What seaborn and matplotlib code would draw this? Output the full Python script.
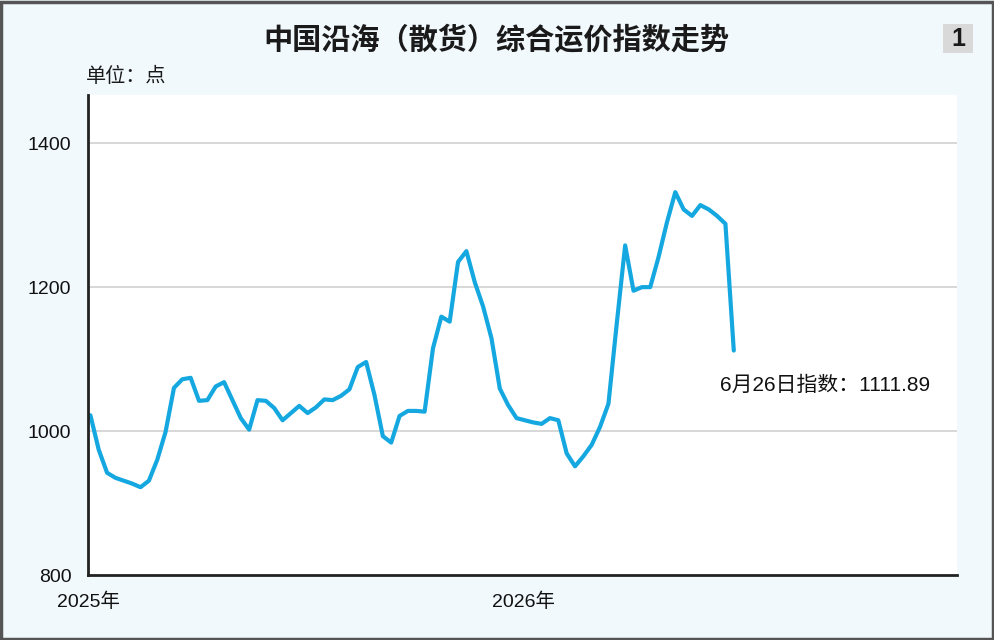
import pandas as pd
import matplotlib
matplotlib.use("Agg")
import matplotlib.pyplot as plt
from matplotlib.patches import Rectangle
import seaborn as sns

title = "中国沿海（散货）综合运价指数走势"
unit_label = "单位：点"
start_date = "2025-01-03"
index_values = [
    1022, 974, 942, 935, 931, 927, 922, 931, 960, 999,
    1060, 1072, 1074, 1042, 1043, 1062, 1068, 1043, 1018, 1002,
    1043, 1042, 1032, 1015, 1025, 1035, 1025, 1033, 1044, 1043,
    1049, 1058, 1089, 1096, 1050, 993, 984, 1021, 1028, 1028,
    1027, 1115, 1159, 1152, 1235, 1250, 1207, 1173, 1129, 1059,
    1036, 1018, 1015, 1012, 1010, 1018, 1015, 969, 951, 965,
    981, 1006, 1038, 1150, 1258, 1195, 1200, 1200, 1242, 1290,
    1332, 1308, 1299, 1314, 1308, 1299, 1288, 1111.89,
]
year_ticks = ["2025-01-01", "2026-01-01"]
year_labels = ["2025年", "2026年"]
y_ticks = [800, 1000, 1200, 1400]
note = "6月26日指数：1111.89"

df = pd.DataFrame({
    "date": pd.date_range(start_date, periods=len(index_values), freq="7D"),
    "value": index_values,
})

sns.set_style("white")
plt.rcParams["font.family"] = ["Liberation Sans", "Noto Sans CJK SC"]

bg = "#f2f9fd"
line_color = "#15a8e0"
ink = "#111111"

fig = plt.figure(figsize=(9.94, 6.4), dpi=100, facecolor=bg)
ax = fig.add_axes([88 / 994, 1 - 575 / 640, (957 - 88) / 994, (575 - 95) / 640])
ax.set_facecolor("white")

sns.lineplot(data=df, x="date", y="value", color=line_color, linewidth=3,
             ax=ax, legend=False)

ax.set_ylim(800, 1467)
ax.set_xlim(pd.Timestamp("2025-01-01"), pd.Timestamp("2026-12-30"))
ax.set_yticks(y_ticks)
ax.set_yticklabels([str(v) for v in y_ticks], fontsize=14, color=ink)
ax.set_xticks([pd.Timestamp(d) for d in year_ticks])
ax.set_xticklabels(year_labels, fontsize=14, color=ink)
ax.tick_params(axis="y", length=0, pad=12)
ax.tick_params(axis="x", direction="in", length=9, width=1.2, color="#222222", pad=13)
ax.set_xlabel("")
ax.set_ylabel("")

for v in y_ticks[1:]:
    ax.axhline(v, color="#d4d4d4", linewidth=1.3, zorder=0)

for side in ["top", "right"]:
    ax.spines[side].set_visible(False)
for side in ["left", "bottom"]:
    ax.spines[side].set_color("#222222")
    ax.spines[side].set_linewidth(2)

last = df.iloc[-1]
ax.annotate(note, xy=(last["date"], last["value"]), xytext=(-10, -25),
            textcoords="offset points", ha="left", va="center",
            fontsize=15, color=ink)

fig.text(496 / 994, 1 - 40 / 640, title, ha="center", va="center",
         fontsize=21, fontweight="bold", color="#1a1a1a",
         family=["Noto Sans CJK SC", "DejaVu Sans"])
fig.text(86 / 994, 1 - 77 / 640, unit_label, ha="left", va="center",
         fontsize=14.5, color="#1a1a1a", family=["Noto Sans CJK SC", "DejaVu Sans"])

fig.patches.append(Rectangle((943 / 994, 1 - 53 / 640), 30 / 994, 29 / 640,
                             transform=fig.transFigure, facecolor="#d9d9d9",
                             edgecolor="none"))
fig.text(958 / 994, 1 - 39 / 640, "1", ha="center", va="center",
         fontsize=18, fontweight="bold", color="#1a1a1a")

fig.patches.append(Rectangle((0.001, 0.002), 0.998, 0.995, transform=fig.transFigure,
                             facecolor="none", edgecolor="#555555", linewidth=2.5))

fig.savefig("out.png", dpi=100, facecolor=bg)
